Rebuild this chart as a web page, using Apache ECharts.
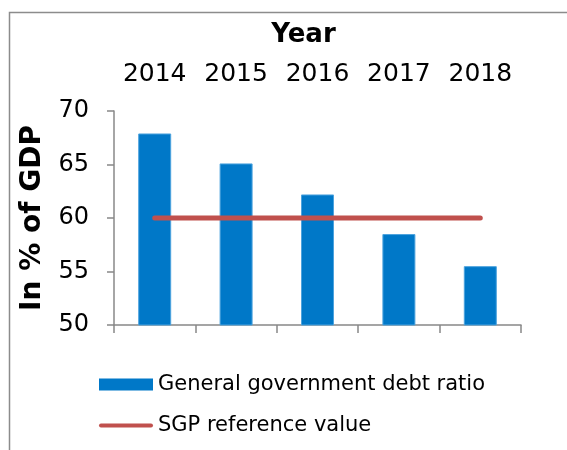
<!DOCTYPE html>
<html><head><meta charset="utf-8">
<script src="https://cdn.jsdelivr.net/npm/echarts@6/dist/echarts.min.js"></script>
<style>html,body{margin:0;padding:0;background:#fff}#c{width:567px;height:450px}</style>
</head><body><div id="c"></div>
<script>
const years = ['2014','2015','2016','2017','2018'];
const debtRatio = [67.9, 65.1, 62.2, 58.5, 55.5];
const sgpReference = [60, 60, 60, 60, 60];
const yTicks = [50, 55, 60, 65, 70];
const xAxisTitle = 'Year';

const font = 'DejaVu Sans, Verdana, sans-serif';
const chart = echarts.init(document.getElementById('c'));
chart.setOption({
  animation: false,
  backgroundColor: '#fff',
  graphic: [
    {type:'rect', shape:{x:9.5,y:12.5,width:700,height:600}, style:{fill:'none', stroke:'#8c8c8c', lineWidth:1.5}, silent:true},
    {type:'text', x:303.5, y:35, style:{text:xAxisTitle, textAlign:'center', textVerticalAlign:'middle',
      fontFamily:font, fontSize:26, fontWeight:'bold', fill:'#000'}}
  ],
  grid: {left:114, right:46, top:111, bottom:125},
  legend: {
    orient:'vertical', left:99, top:374, padding:0, itemWidth:54, itemHeight:12, itemGap:20, itemTextGap:5,
    textStyle:{fontFamily:font, fontSize:21, color:'#000'},
    data:[{name:'General government debt ratio', icon:'rect', itemStyle:{borderWidth:0}},
          {name:'SGP reference value', icon:'path://M2,0 L52,0 A2,2 0 0 1 52,4 L2,4 A2,2 0 0 1 2,0 Z'}]
  },
  xAxis: [
    {type:'category', data:years, position:'bottom', boundaryGap:true,
     axisLine:{lineStyle:{color:'#888', width:1.5}}, axisTick:{show:true, length:8, lineStyle:{color:'#888', width:1.5}},
     axisLabel:{show:false}},
    {type:'category', data:years, position:'top', boundaryGap:true,
     axisLine:{show:false}, axisTick:{show:false},
     axisLabel:{show:true, interval:0, hideOverlap:false, margin:24, fontFamily:font, fontSize:25, color:'#000'}}
  ],
  yAxis: {type:'value', min:yTicks[0], max:yTicks[yTicks.length-1], interval:5,
    splitLine:{show:false},
    axisLine:{show:true, lineStyle:{color:'#888', width:1.5}},
    axisTick:{show:true, length:7, lineStyle:{color:'#888', width:1.5}},
    axisLabel:{margin:25, fontFamily:font, fontSize:24, color:'#000'},
    name:'In % of GDP', nameLocation:'middle', nameGap:67, nameRotate:90,
    nameTextStyle:{fontFamily:font, fontSize:28, fontWeight:'bold', color:'#000'}},
  series: [
    {name:'General government debt ratio', type:'bar', xAxisIndex:0, data:debtRatio, barWidth:33,
     itemStyle:{color:'#0078C8', borderColor:'#4DA3DE', borderWidth:1}},
    {name:'SGP reference value', type:'line', xAxisIndex:0, data:sgpReference, symbol:'none',
     lineStyle:{color:'#C0504D', width:5, cap:'round'}, itemStyle:{color:'#C0504D'}}
  ]
});
</script></body></html>
